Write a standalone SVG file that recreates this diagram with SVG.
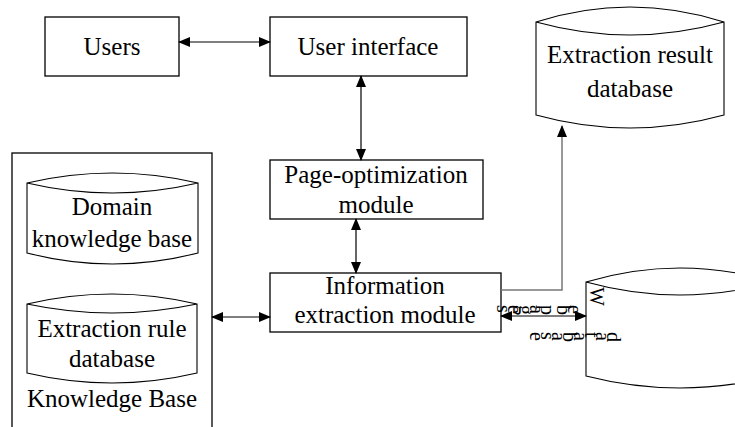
<svg xmlns="http://www.w3.org/2000/svg" width="735" height="427" viewBox="0 0 735 427">
<style>
.box{fill:#fff;stroke:#000;stroke-width:1.3}
.cyl{fill:#fff;stroke:#000;stroke-width:1.1}
text{font-family:'Liberation Serif','Times New Roman','DejaVu Serif',serif;fill:#000}
.t{font-size:25px;text-anchor:middle}
.r{font-size:20px}
.c{fill:none;stroke:#000;stroke-width:1.2}
.g{fill:none;stroke:#777;stroke-width:1.5}
</style>
<defs>
<marker id="ah" markerWidth="12" markerHeight="10" refX="11" refY="5" orient="auto-start-reverse" markerUnits="userSpaceOnUse">
<path d="M0,0 L12,5 L0,10 Z" fill="#000"/>
</marker>
</defs>
<rect width="735" height="427" fill="#fff"/>
<g id="knowledge-base">
<rect class="box" x="12" y="153" width="200" height="290"/>
<text class="t" x="112" y="407" font-family="Liberation Serif, serif">Knowledge Base</text>
</g>
<g id="users">
<rect class="box" x="45" y="17" width="134" height="59"/>
<text class="t" x="112" y="55" font-family="Liberation Serif, serif">Users</text>
</g>
<g id="user-interface">
<rect class="box" x="270" y="17" width="197" height="59"/>
<text class="t" x="368" y="55" font-family="Liberation Serif, serif">User interface</text>
</g>
<g id="page-optimization">
<rect class="box" x="270" y="160" width="213" height="59"/>
<text class="t" x="376" y="183" font-family="Liberation Serif, serif">Page-optimization</text>
<text class="t" x="376" y="213" font-family="Liberation Serif, serif">module</text>
</g>
<g id="information-extraction">
<rect class="box" x="270" y="273" width="231" height="59"/>
<text class="t" x="385" y="294" font-family="Liberation Serif, serif">Information</text>
<text class="t" x="385" y="323" font-family="Liberation Serif, serif">extraction module</text>
</g>
<g id="domain-kb">
<path class="cyl" d="M27,183 Q112.5,163 198,183 L198,253 Q112.5,275 27,253 Z M27,183 Q112.5,203 198,183"/>
<text class="t" x="112" y="215" font-family="Liberation Serif, serif">Domain</text>
<text class="t" x="112" y="247" font-family="Liberation Serif, serif">knowledge base</text>
</g>
<g id="extraction-rule-db">
<path class="cyl" d="M27,304 Q112,284 197,304 L197,373 Q112,393 27,373 Z M27,304 Q112,322 197,304"/>
<text class="t" x="112" y="337" font-family="Liberation Serif, serif">Extraction rule</text>
<text class="t" x="112" y="367" font-family="Liberation Serif, serif">database</text>
</g>
<g id="extraction-result-db">
<path class="cyl" d="M536,22 Q630,-8 724,22 L724,115 Q630,141 536,115 Z M536,22 Q630,48 724,22"/>
<text class="t" x="630" y="63" font-family="Liberation Serif, serif">Extraction result</text>
<text class="t" x="630" y="97" font-family="Liberation Serif, serif">database</text>
</g>
<g id="web-pages-db">
<path class="cyl" d="M586,282 Q680,254 774,282 L774,376 Q680,400 586,376 Z M586,282 Q680,308 774,282"/>
<text class="r" x="590" y="287" rotate="90" font-family="Liberation Serif, serif">W</text>
<text class="r" x="568 557 548 541 530 519 508 497" y="305 305 305 305 305 305 305 305" rotate="90 90 90 90 90 90 90 90" font-family="Liberation Serif, serif">eb pages</text>
<text class="r" x="607 596 585 574 563 552 541 530" y="332 332 332 332 332 332 332 332" rotate="90 90 90 90 90 90 90 90" font-family="Liberation Serif, serif">database</text>
</g>
<g id="connectors">
<line class="c" x1="179" y1="42" x2="270" y2="42" marker-start="url(#ah)" marker-end="url(#ah)"/>
<line class="c" x1="361" y1="76" x2="361" y2="160" marker-start="url(#ah)" marker-end="url(#ah)"/>
<line class="c" x1="356" y1="219" x2="356" y2="273" marker-start="url(#ah)" marker-end="url(#ah)"/>
<line class="c" x1="212" y1="317" x2="270" y2="317" marker-start="url(#ah)" marker-end="url(#ah)"/>
<line class="c" x1="501" y1="316" x2="586" y2="316" marker-start="url(#ah)" marker-end="url(#ah)"/>
<polyline class="g" points="501,290 562,290 562,126" marker-end="url(#ah)"/>
</g>
</svg>
